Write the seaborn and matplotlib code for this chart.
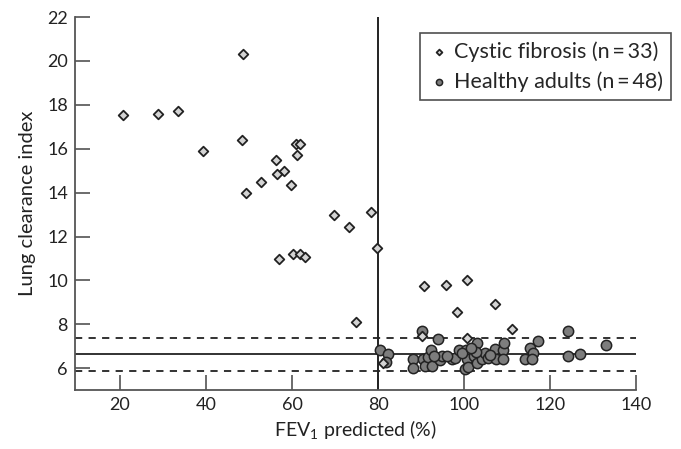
import pandas as pd
import numpy as np
import matplotlib
matplotlib.use('Agg')
import matplotlib.pyplot as plt
import seaborn as sns

# Cystic fibrosis patients (n = 33)
cf_fev1 = [20.8, 28.9, 33.4, 48.5, 39.4, 48.3, 60.9, 61.9, 61.1, 56.3, 58.1, 56.4,
           52.8, 59.8, 49.2, 69.8, 73.3, 78.4, 79.8, 56.9, 60.2, 61.9, 63.0, 74.8,
           81.2, 90.8, 95.9, 100.7, 98.3, 107.1, 111.2, 90.2, 100.7]
cf_lci = [17.54, 17.57, 17.7, 20.3, 15.9, 16.4, 16.2, 16.2, 15.7, 15.5, 15.0, 14.84,
          14.5, 14.37, 14.0, 12.97, 12.42, 13.12, 11.48, 10.96, 11.22, 11.22, 11.08, 8.1,
          6.24, 9.76, 9.79, 10.0, 8.54, 8.92, 7.8, 7.45, 7.40]

# Healthy adults (n = 48)
ha_fev1 = [80.5, 82.4, 81.8, 88.2, 88.2, 90.2, 90.4, 91.0, 91.7, 92.3, 92.6, 93.9,
           94.4, 94.8, 97.1, 97.9, 98.8, 100.5, 100.7, 100.6, 100.2, 101.0, 102.2, 103.0,
           103.0, 104.1, 104.9, 105.6, 107.2, 109.1, 109.3, 107.4, 109.1, 115.3, 116.0, 114.2,
           115.7, 117.1, 124.1, 124.1, 127.0, 133.0, 99.5, 96.0, 102.8, 106.0, 93.0, 101.5]
ha_lci = [6.83, 6.65, 6.27, 6.42, 6.02, 7.69, 6.44, 6.12, 6.50, 6.85, 6.10, 7.35,
          6.38, 6.58, 6.44, 6.48, 6.82, 6.85, 6.63, 6.40, 5.97, 6.06, 6.58, 7.17,
          6.24, 6.42, 6.68, 6.48, 6.88, 6.85, 7.16, 6.40, 6.40, 6.90, 6.70, 6.44,
          6.44, 7.25, 7.69, 6.55, 6.67, 7.08, 6.70, 6.55, 6.72, 6.60, 6.55, 6.90]

# reference lines
lci_mean = 6.65
lci_uln = 7.4
lci_lln = 5.88
fev1_cut = 80

cf = pd.DataFrame({'FEV1': cf_fev1, 'LCI': cf_lci})
ha = pd.DataFrame({'FEV1': ha_fev1, 'LCI': ha_lci})

sns.set_style('ticks')
plt.rcParams['font.family'] = ['Lato', 'DejaVu Sans']
plt.rcParams['mathtext.fontset'] = 'custom'
plt.rcParams['mathtext.rm'] = 'Lato'

fig = plt.figure(figsize=(6.81, 4.49), dpi=100)
ax = fig.add_axes([0.110, 0.131, 0.824, 0.831])

xmin, xmax = 9.5, 140
ax.plot([xmin, xmax], [lci_mean, lci_mean], color='#222222', lw=1.3, zorder=1)
ax.plot([xmin, xmax], [lci_uln, lci_uln], color='#222222', lw=1.3, ls=(0, (4, 3.5)), zorder=1)
ax.plot([xmin, xmax], [lci_lln, lci_lln], color='#222222', lw=1.3, ls=(0, (4, 3.5)), zorder=1)
ax.axvline(fev1_cut, color='#222222', lw=1.4, zorder=1)

sns.scatterplot(data=ha, x='FEV1', y='LCI', marker='o', s=55, color='#7d7d7d',
                edgecolor='#222222', linewidth=1.1, ax=ax, zorder=3,
                label='Healthy adults (n\u2009=\u200948)')
sns.scatterplot(data=cf, x='FEV1', y='LCI', marker='D', s=24, color='#d4d4d4',
                edgecolor='#222222', linewidth=1.3, ax=ax, zorder=4,
                label='Cystic fibrosis (n\u2009=\u200933)')

ax.set_xlim(xmin, xmax)
ax.set_ylim(5, 22)
ax.set_xticks([20, 40, 60, 80, 100, 120, 140])
ax.set_yticks([6, 8, 10, 12, 14, 16, 18, 20, 22])
ax.tick_params(direction='in', length=11, width=1.1, color='#444444',
               labelsize=13, labelcolor='#222222', pad=5)
sns.despine(ax=ax)
for s in ['left', 'bottom']:
    ax.spines[s].set_color('#555555')
    ax.spines[s].set_linewidth(1.3)

ax.set_xlabel('FEV$_1$ predicted (%)', fontsize=14, color='#222222', labelpad=4)
ax.set_ylabel('Lung clearance index', fontsize=14.5, color='#222222', labelpad=8)

handles, labels = ax.get_legend_handles_labels()
leg = ax.legend(handles[::-1], labels[::-1], loc='upper right',
                bbox_to_anchor=(0.986, 0.927), bbox_transform=fig.transFigure,
                fontsize=15.5, frameon=True, fancybox=False, handletextpad=0.25,
                handlelength=0.9, borderpad=0.4, labelspacing=0.42, markerscale=0.6,
                borderaxespad=0)
leg.get_frame().set_edgecolor('#222222')
leg.get_frame().set_linewidth(1.2)

plt.savefig('out.png', dpi=100)
